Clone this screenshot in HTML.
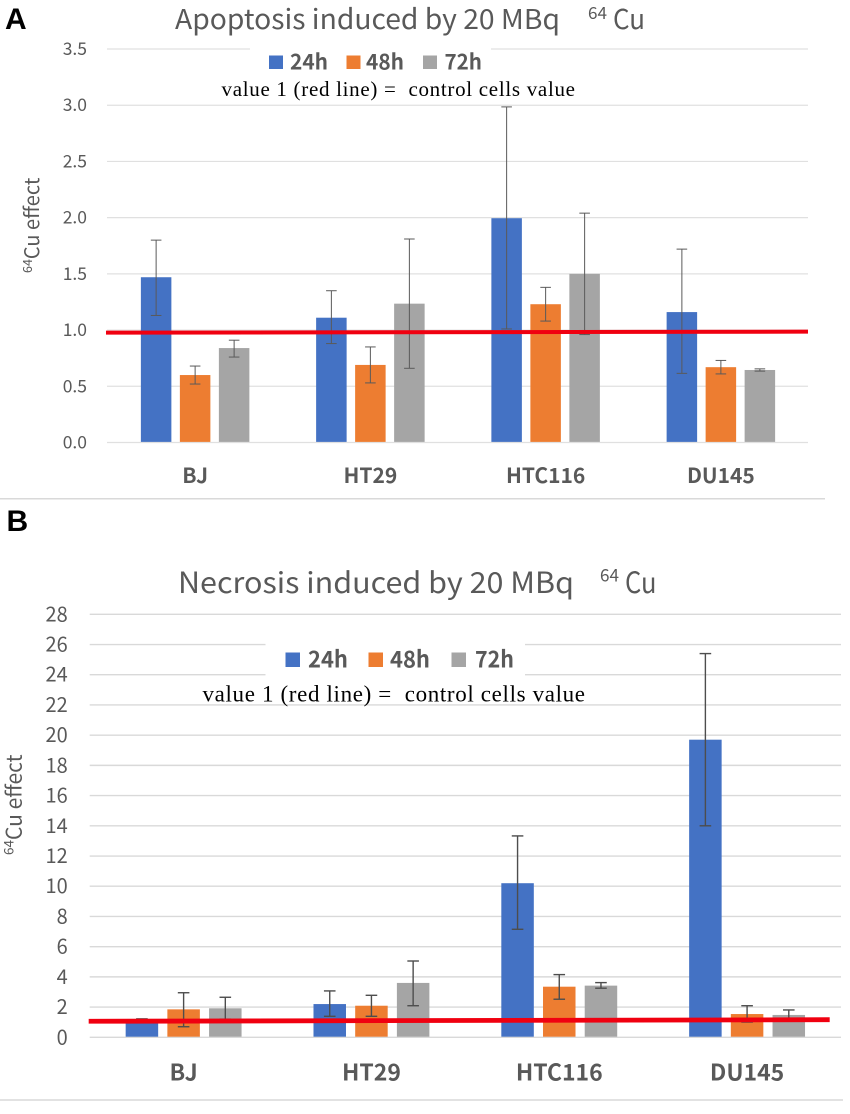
<!DOCTYPE html>
<html lang="en">
<head>
<meta charset="utf-8">
<title>Apoptosis and necrosis induced by 20 MBq 64Cu</title>
<style>
html,body{margin:0;padding:0;background:#fff;width:850px;height:1114px;overflow:hidden}
svg{display:block}
text{font-family:"Noto Sans CJK KR","Liberation Sans",sans-serif;fill:#595959}
.serif{font-family:"Liberation Serif",serif;fill:#000}
.panel{font-family:"Liberation Sans",sans-serif;font-weight:bold;fill:#000;font-size:30px}
.leg{font-weight:bold}
</style>
</head>
<body>
<svg id="figure" xmlns="http://www.w3.org/2000/svg" width="850" height="1114" viewBox="0 0 850 1114">
  <rect x="0" y="0" width="850" height="1114" fill="#fff"/>
  <g id="chartA"></g>
  <g id="chartB"></g>

  <text class="panel" x="5" y="29">A</text>
  <text class="panel" x="6.5" y="531">B</text>

  <text x="175" y="29" font-size="27.5" textLength="385" lengthAdjust="spacingAndGlyphs">Apoptosis induced by 20 MBq</text>
  <text x="588" y="19" font-size="17" textLength="19" lengthAdjust="spacingAndGlyphs">64</text>
  <text x="613" y="29" font-size="27.5" textLength="32" lengthAdjust="spacingAndGlyphs">Cu</text>

  <text x="178" y="593" font-size="29" textLength="396" lengthAdjust="spacingAndGlyphs">Necrosis induced by 20 MBq</text>
  <text x="600" y="581.5" font-size="17.5" textLength="19" lengthAdjust="spacingAndGlyphs">64</text>
  <text x="625" y="593" font-size="29" textLength="31.5" lengthAdjust="spacingAndGlyphs">Cu</text>

  <text transform="translate(39,273) rotate(-90)" font-size="20"><tspan font-size="12.5" dy="-7">64</tspan><tspan dy="7">Cu effect</tspan></text>
  <text transform="translate(21.5,855) rotate(-90)" font-size="21"><tspan font-size="13.5" dy="-8">64</tspan><tspan dy="8">Cu effect</tspan></text>

  <g>
    <g>
      <rect x="269" y="55.5" width="14" height="13.5" fill="#4472c4"/>
      <text class="leg" x="290" y="69.5" font-size="21.5" textLength="38" lengthAdjust="spacingAndGlyphs">24h</text>
    </g>
    <g>
      <rect x="346.5" y="55.5" width="14" height="13.5" fill="#ed7d31"/>
      <text class="leg" x="366" y="69.5" font-size="21.5" textLength="38" lengthAdjust="spacingAndGlyphs">48h</text>
    </g>
    <g>
      <rect x="423" y="55.5" width="14" height="13.5" fill="#a5a5a5"/>
      <text class="leg" x="444.5" y="69.5" font-size="21.5" textLength="37.5" lengthAdjust="spacingAndGlyphs">72h</text>
    </g>
  </g>
  <text class="serif" x="221.5" y="96" font-size="21" textLength="353.5" xml:space="preserve">value 1 (red line) =  control cells value</text>

  <g>
    <g>
      <rect x="285.5" y="652.5" width="14.5" height="14.5" fill="#4472c4"/>
      <text class="leg" x="308" y="667.5" font-size="23" textLength="40" lengthAdjust="spacingAndGlyphs">24h</text>
    </g>
    <g>
      <rect x="368.5" y="652.5" width="14.5" height="14.5" fill="#ed7d31"/>
      <text class="leg" x="390" y="667.5" font-size="23" textLength="40" lengthAdjust="spacingAndGlyphs">48h</text>
    </g>
    <g>
      <rect x="451.5" y="652.5" width="14.5" height="14.5" fill="#a5a5a5"/>
      <text class="leg" x="475" y="667.5" font-size="23" textLength="39" lengthAdjust="spacingAndGlyphs">72h</text>
    </g>
  </g>
  <text class="serif" x="202.5" y="701.5" font-size="23" textLength="382.5" xml:space="preserve">value 1 (red line) =  control cells value</text>

  <line x1="0" y1="498.7" x2="825" y2="498.7" stroke="#d9d9d9" stroke-width="1.5"/>
  <line x1="0" y1="1100" x2="843" y2="1100" stroke="#d9d9d9" stroke-width="1.5"/>
</svg>

<script>
const categories = ['BJ', 'HT29', 'HTC116', 'DU145'];
const seriesNames = ['24h', '48h', '72h'];

const apoptosisTicks = ['0.0', '0.5', '1.0', '1.5', '2.0', '2.5', '3.0', '3.5'];
const apoptosis24h = [1.47, 1.11, 1.995, 1.16];
const apoptosis48h = [0.60, 0.69, 1.23, 0.67];
const apoptosis72h = [0.84, 1.235, 1.50, 0.645];
const apoptosis24hHigh = [1.80, 1.35, 2.985, 1.72];
const apoptosis24hLow = [1.13, 0.88, 1.01, 0.615];
const apoptosis48hHigh = [0.68, 0.85, 1.38, 0.73];
const apoptosis48hLow = [0.52, 0.53, 1.08, 0.61];
const apoptosis72hHigh = [0.91, 1.81, 2.04, 0.655];
const apoptosis72hLow = [0.76, 0.66, 0.96, 0.635];
const apoptosisRefLine = [0.977, 0.986];

const necrosisTicks = ['0', '2', '4', '6', '8', '10', '12', '14', '16', '18', '20', '22', '24', '26', '28'];
const necrosis24h = [1.15, 2.2, 10.2, 19.7];
const necrosis48h = [1.85, 2.09, 3.35, 1.54];
const necrosis72h = [1.92, 3.6, 3.42, 1.48];
const necrosis24hHigh = [1.22, 3.07, 13.33, 25.4];
const necrosis24hLow = [1.08, 1.39, 7.15, 14.0];
const necrosis48hHigh = [2.95, 2.78, 4.15, 2.09];
const necrosis48hLow = [0.70, 1.39, 2.52, 1.01];
const necrosis72hHigh = [2.65, 5.05, 3.62, 1.81];
const necrosis72hLow = [1.20, 2.09, 3.25, 1.15];
const necrosisRefLine = [1.06, 1.165];

const seriesColors = ['#4472c4', '#ed7d31', '#a5a5a5'];
const SVG_NS = 'http://www.w3.org/2000/svg';

function mk(parent, tag, attrs) {
  const el = document.createElementNS(SVG_NS, tag);
  for (const k in attrs) el.setAttribute(k, attrs[k]);
  parent.appendChild(el);
  return el;
}

function drawChart(root, prefix, layout, ticks, values, highs, lows, refLine) {
  const maxTick = parseFloat(ticks[ticks.length - 1]);
  const yScale = v => layout.y0 - (v / maxTick) * (layout.y0 - layout.yTop);
  const band = (layout.xEnd - layout.xStart) / categories.length;
  const xCenter = i => layout.xStart + band * (i + 0.5) + layout.shift;

  ticks.forEach(t => {
    const v = parseFloat(t);
    const y = yScale(v);
    const grid = mk(root, 'line', {x1: layout.xStart, x2: layout.xEnd, y1: y, y2: y, stroke: layout.gridColor, 'stroke-width': layout.gridWidth});
    
    
    const label = mk(root, 'text', {x: layout.tickX, y: y + layout.tickDy, 'text-anchor': 'end', 'font-size': layout.tickFont});
    label.textContent = t;
    
    
  });

  const cover = mk(root, 'rect', {x: layout.cover[0], y: layout.cover[1], width: layout.cover[2], height: layout.cover[3], fill: '#fff'});
  
  

  categories.forEach((cat, c) => {
    seriesNames.forEach((s, si) => {
      const cx = xCenter(c) + (si - 1) * layout.barStep;
      const top = yScale(values[si][c]);
      const bar = mk(root, 'rect', {x: cx - layout.barWidth / 2, y: top, width: layout.barWidth, height: layout.y0 - 0.6 - top, fill: seriesColors[si]});
      
      
    });
  });

  categories.forEach((cat, c) => {
    seriesNames.forEach((s, si) => {
      const cx = xCenter(c) + (si - 1) * layout.barStep;
      const yHigh = yScale(highs[si][c]);
      const yLow = yScale(lows[si][c]);
      const g = mk(root, 'g', {stroke: layout.errColor, 'stroke-width': layout.errWidth, fill: 'none'});
      
      
      mk(g, 'line', {x1: cx, x2: cx, y1: yHigh, y2: yLow});
      mk(g, 'line', {x1: cx - layout.capHalf, x2: cx + layout.capHalf, y1: yHigh, y2: yHigh});
      mk(g, 'line', {x1: cx - layout.capHalf, x2: cx + layout.capHalf, y1: yLow, y2: yLow});
    });
  });

  const red = mk(root, 'line', {x1: layout.xStart - 1, x2: layout.refEnd, y1: yScale(refLine[0]), y2: yScale(refLine[1]), stroke: '#f00010', 'stroke-width': layout.refWidth});
  
  

  categories.forEach((cat, c) => {
    const label = mk(root, 'text', {x: xCenter(c), y: layout.catY, 'text-anchor': 'middle', 'font-size': layout.catFont, 'font-weight': 'bold'});
    label.textContent = cat;
    
    
  });
}

drawChart(document.getElementById('chartA'), 'apoptosis', {
  xStart: 107, xEnd: 808, refEnd: 808, y0: 442.5, yTop: 49, shift: 0.5,
  barWidth: 30.5, barStep: 39, capHalf: 5.3, errColor: '#5a5a5a', errWidth: 1,
  gridColor: '#e0e0e0', gridWidth: 1.2, tickX: 87, tickDy: 6, tickFont: 17.5,
  cover: [250, 46, 241, 8], refWidth: 4, catY: 483, catFont: 21
}, apoptosisTicks,
  [apoptosis24h, apoptosis48h, apoptosis72h],
  [apoptosis24hHigh, apoptosis48hHigh, apoptosis72hHigh],
  [apoptosis24hLow, apoptosis48hLow, apoptosis72hLow],
  apoptosisRefLine);

drawChart(document.getElementById('chartB'), 'necrosis', {
  xStart: 89.7, xEnd: 841, refEnd: 829.7, y0: 1037.3, yTop: 614.3, shift: 0,
  barWidth: 32.5, barStep: 41.7, capHalf: 5.8, errColor: '#4d4d4d', errWidth: 1.4,
  gridColor: '#d9d9d9', gridWidth: 1.4, tickX: 67.7, tickDy: 7, tickFont: 20,
  cover: [265.5, 640, 259.5, 40], refWidth: 4.8, catY: 1080.7, catFont: 23
}, necrosisTicks,
  [necrosis24h, necrosis48h, necrosis72h],
  [necrosis24hHigh, necrosis48hHigh, necrosis72hHigh],
  [necrosis24hLow, necrosis48hLow, necrosis72hLow],
  necrosisRefLine);
</script>
</body>
</html>
